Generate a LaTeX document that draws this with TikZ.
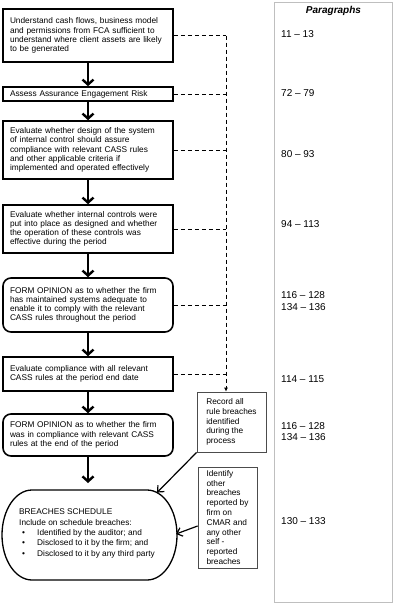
\documentclass[tikz,border=0pt]{standalone}
\usepackage{fontspec}
\setmainfont{Liberation Sans}
\usetikzlibrary{arrows.meta}
\begin{document}
\begin{tikzpicture}[x=1pt,y=-1pt,
 mainbox/.style={draw, line width=1.6pt, minimum width=170pt, text width=156pt, inner xsep=7pt, inner ysep=0pt, align=left, font=\fontsize{8.3}{9.2}\selectfont},
 roundbox/.style={mainbox, rounded corners=8pt},
 flow/.style={line width=2.4pt, -{Straight Barb[length=5pt,width=11pt]}},
 dashlink/.style={line width=0.9pt, dash pattern=on 4pt off 3pt},
 notebox/.style={draw=black!70, line width=0.8pt, align=left, font=\fontsize{8.3}{9.8}\selectfont, inner sep=0pt},
 notearrow/.style={line width=1.2pt, -{Straight Barb[length=5pt,width=9pt]}},
 para/.style={anchor=west, inner sep=0pt, align=left, font=\fontsize{10}{11.6}\selectfont},
]
\useasboundingbox[fill=white] (0,0) rectangle (407,603);

% paragraphs panel
\draw[draw=black!25, line width=0.8pt] (274,2) rectangle (392,602);
\node[inner sep=0pt, font=\fontsize{10}{12}\selectfont\bfseries\itshape] (ph) at (333.5,11) {Paragraphs};
\node[para] (p1) at (281,34) {11 – 13};
\node[para] (p2) at (281,93) {72 – 79};
\node[para] (p3) at (281,154) {80 – 93};
\node[para] (p4) at (281,224) {94 – 113};
\node[para] (p5) at (281,301) {116 – 128\\134 – 136};
\node[para] (p6) at (281,379) {114 – 115};
\node[para] (p7) at (281,431.5) {116 – 128\\134 – 136};
\node[para] (p8) at (281,521) {130 – 133};

% main flow
\node[mainbox, minimum height=53pt] (n1) at (88,35.5) {Understand cash flows, business model\\and permissions from FCA sufficient to\\understand where client assets are likely\\to be generated};
\node[mainbox, minimum height=14pt] (n2) at (88,94) {Assess Assurance Engagement Risk};
\node[mainbox, minimum height=58pt] (n3) at (88,150) {Evaluate whether design of the system\\of internal control should assure\\compliance with relevant CASS rules\\and other applicable criteria if\\implemented and operated effectively};
\node[mainbox, minimum height=48pt] (n4) at (88,229) {Evaluate whether internal controls were\\put into place as designed and whether\\the operation of these controls was\\effective during the period};
\node[roundbox, minimum height=54pt] (n5) at (88,305) {FORM OPINION as to whether the firm\\has maintained systems adequate to\\enable it to comply with the relevant\\CASS rules throughout the period};
\node[mainbox, minimum height=34pt] (n6) at (88,374) {Evaluate compliance with all relevant\\CASS rules at the period end date};
\node[roundbox, minimum height=42pt] (n7) at (88,435) {FORM OPINION as to whether the firm\\was in compliance with relevant CASS\\rules at the end of the period};

% breaches schedule shape
\draw[line width=1.3pt] (32,490) -- (147,490)
  arc[start angle=-90, end angle=90, x radius=30, y radius=45] -- (32,580)
  arc[start angle=90, end angle=270, x radius=30, y radius=45] -- cycle;
\node[anchor=west, inner sep=0pt, align=left, font=\fontsize{8.3}{10.3}\selectfont] (bs) at (19,533.5)
  {BREACHES SCHEDULE\\Include on schedule breaches:\\
   \hspace*{3pt}\makebox[15pt][l]{•}Identified by the auditor; and\\
   \hspace*{3pt}\makebox[15pt][l]{•}Disclosed to it by the firm; and\\
   \hspace*{3pt}\makebox[15pt][l]{•}Disclosed to it by any third party};
\coordinate (btop) at (88,483);
\coordinate (bne) at (157,492.6);
\coordinate (beast) at (176,534);

% note boxes
\node[notebox, minimum width=69pt, minimum height=60pt] (rec) at (231.5,422) {Record all\\rule breaches\\identified\\during the\\process};
\node[notebox, minimum width=59pt, minimum height=101pt] (idb) at (227.5,517.5) {Identify\\other\\breaches\\reported by\\firm on\\CMAR and\\any other\\self -\\reported\\breaches};

% flow arrows
\draw[flow] (n1.south) -- (n2.north);
\draw[flow] (n2.south) -- (n3.north);
\draw[flow] (n3.south) -- (n4.north);
\draw[flow] (n4.south) -- (n5.north);
\draw[flow] (n5.south) -- (n6.north);
\draw[flow] (n6.south) -- (n7.north);
\draw[flow] (n7.south) -- (btop);

% dashed links
\coordinate (tt) at (226,35.5);
\draw[dashlink] (n1.east) -- (tt);
\draw[dashlink, -{Latex[length=4pt,width=4pt]}] (tt) -- (tt |- rec.north);
\draw[dashlink] (n2.east) -- (n2.east -| tt);
\draw[dashlink] (n3.east) -- (n3.east -| tt);
\draw[dashlink] (n4.east) -- (n4.east -| tt);
\draw[dashlink] (n5.east) -- (n5.east -| tt);
\draw[dashlink] (n6.east) -- (n6.east -| tt);

% note arrows
\draw[notearrow] (rec.south west) -- (bne);
\draw[notearrow] ([yshift=-8.5pt]idb.west) -- (beast);
\end{tikzpicture}
\end{document}
